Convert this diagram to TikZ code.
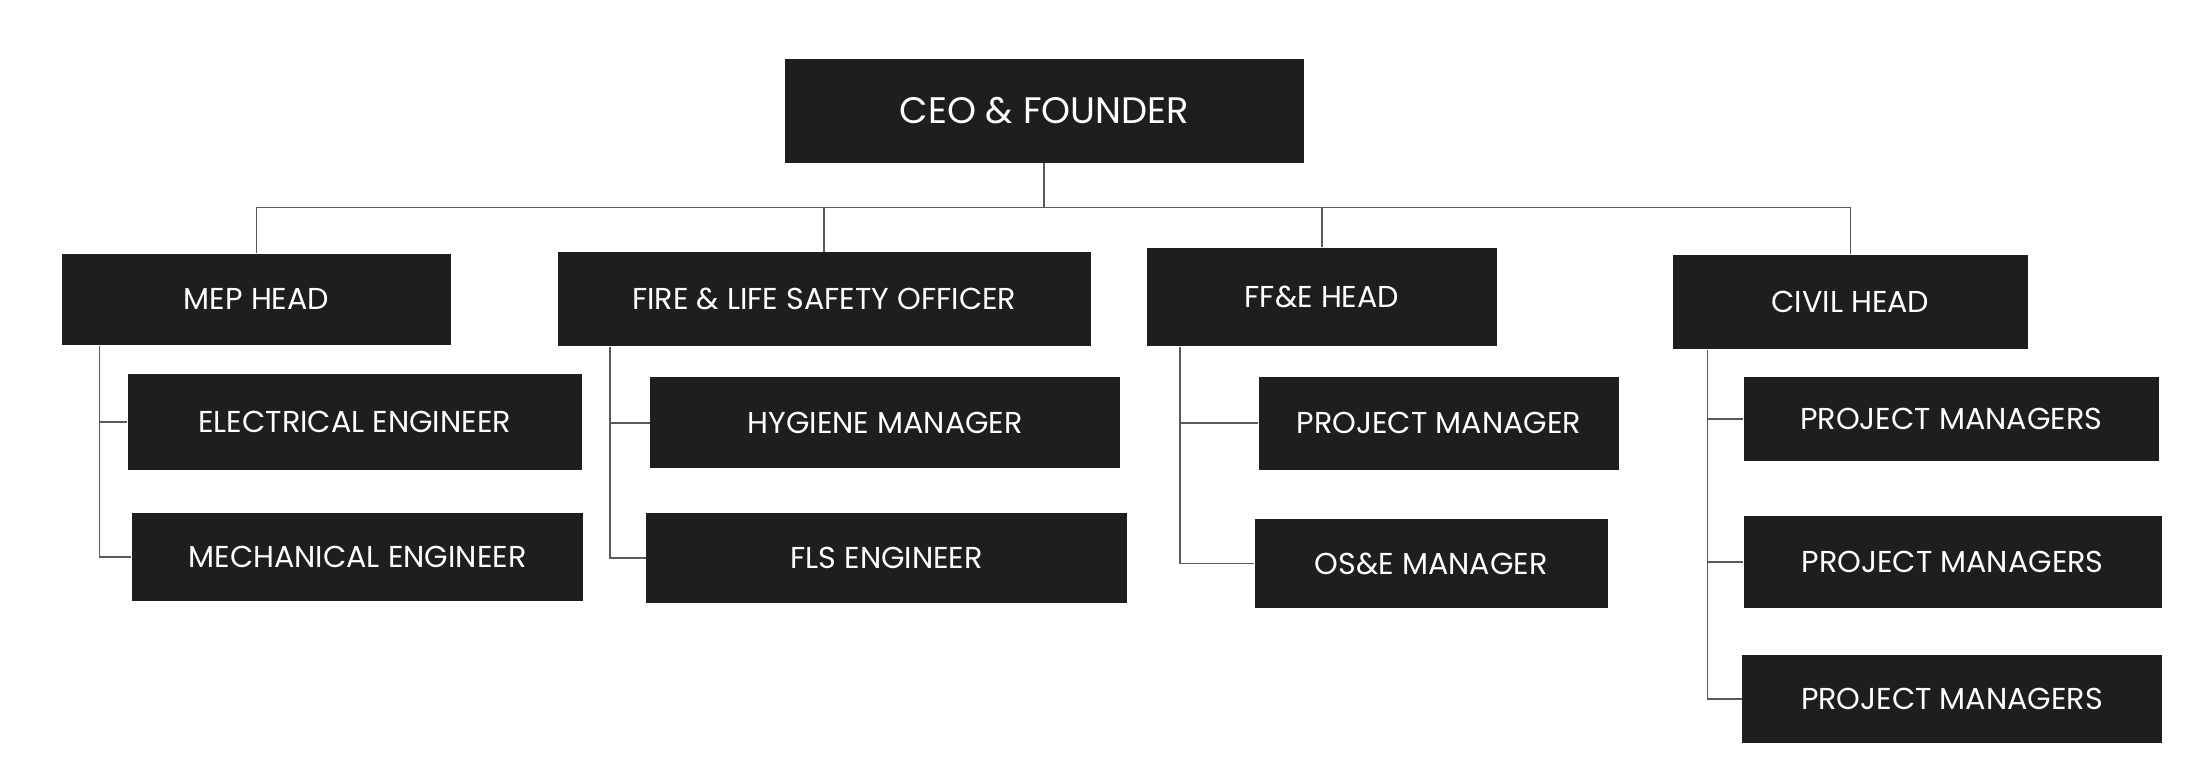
\documentclass[tikz,border=0pt]{standalone}
\usepackage{fontspec}
\setmainfont{Poppins}
\usetikzlibrary{positioning}
\definecolor{boxfill}{HTML}{1E1E20}
\definecolor{linkgray}{HTML}{5A5A5A}
\begin{document}
\begin{tikzpicture}[x=0.01402cm, y=-0.01402cm, font=\fontsize{8.6}{10}\selectfont]
    \tikzset{box/.style 2 args={rectangle, fill=boxfill, text=white, minimum width=#1*0.01402cm, minimum height=#2*0.01402cm, inner sep=0pt, align=center},
             link/.style={draw=linkgray, line width=0.5pt}}
    \useasboundingbox (0,0) rectangle (1568,553);
    % top
    \node[box={370}{74}, font=\fontsize{10.5}{12}\selectfont] (ceo) at (745,79) {CEO \& FOUNDER};
    % heads
    \node[box={278}{65}] (mep) at (183,213.5) {MEP HEAD};
    \node[box={380}{67}] (fire) at (588,213.5) {FIRE \& LIFE SAFETY OFFICER};
    \node[box={250}{70}] (ffe) at (943,212) {FF\&E HEAD};
    \node[box={253}{67}] (civil) at (1320,215.5) {CIVIL HEAD};
    % staff
    \node[box={324}{68}] (elec) at (253,301) {ELECTRICAL ENGINEER};
    \node[box={322}{63}] (mech) at (255,397.5) {MECHANICAL ENGINEER};
    \node[box={335}{65}] (hyg) at (631.5,301.5) {HYGIENE MANAGER};
    \node[box={343}{64}] (fls) at (632.5,398) {FLS ENGINEER};
    \node[box={257}{66}] (pm) at (1026.5,302) {PROJECT MANAGER};
    \node[box={252}{64}] (ose) at (1021,402) {OS\&E MANAGER};
    \node[box={296}{60}] (pmsa) at (1392,299) {PROJECT MANAGERS};
    \node[box={298}{66}] (pmsb) at (1393,401) {PROJECT MANAGERS};
    \node[box={299}{63}] (pmsc) at (1392.5,498.5) {PROJECT MANAGERS};

    \coordinate (bus) at (745,148);
    \draw[link] (ceo.south) -- (bus);
    \draw[link] (mep.north) |- (bus) -| (civil.north);
    \draw[link] (fire.north) -- (fire.north |- bus);
    \draw[link] (ffe.north) -- (ffe.north |- bus);

    \draw[link] (mep.south -| 71,0) |- (mech.west);
    \draw[link] (elec.west -| 71,0) -- (elec.west);
    \draw[link] (fire.south -| 435,0) |- (fls.west);
    \draw[link] (hyg.west -| 435,0) -- (hyg.west);
    \draw[link] (ffe.south -| 842,0) |- (ose.west);
    \draw[link] (pm.west -| 842,0) -- (pm.west);
    \draw[link] (civil.south -| 1218,0) |- (pmsc.west);
    \draw[link] (pmsa.west -| 1218,0) -- (pmsa.west);
    \draw[link] (pmsb.west -| 1218,0) -- (pmsb.west);
\end{tikzpicture}
\end{document}
